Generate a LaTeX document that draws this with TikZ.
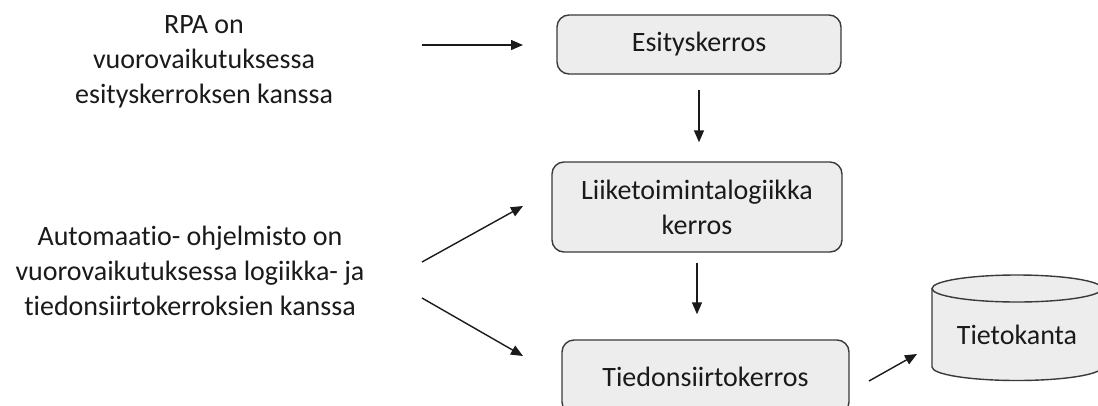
\documentclass[tikz,border=0pt]{standalone}
\usepackage{fontspec}
\setmainfont{Carlito}[Ligatures={NoCommon,NoRequired,NoContextual}]
\usetikzlibrary{arrows.meta}
\definecolor{boxfill}{HTML}{EDEDED}
\definecolor{boxline}{HTML}{3A3A3A}
\definecolor{txt}{HTML}{1A1A1A}
\begin{document}
\begin{tikzpicture}[x=1pt,y=1pt,
  layerbox/.style={draw=boxline, fill=boxfill, line width=1.4pt, rounded corners=12pt,
    inner sep=0pt, align=center, text=txt, font=\fontsize{28}{35}\selectfont},
  plain/.style={inner sep=0pt, align=center, text=txt, font=\fontsize{28}{35}\selectfont},
  conn/.style={line width=1.4pt, draw=txt, -{Triangle[length=12pt,width=10pt]}}]
\useasboundingbox (0,0) rectangle (1098,-405);
% left texts
\node[plain] (rpa) at (204,-62) {RPA on\\vuorovaikutuksessa\\esityskerroksen kanssa};
\node[plain] (auto) at (190,-271) {Automaatio- ohjelmisto on\\vuorovaikutuksessa logiikka- ja\\tiedonsiirtokerroksien kanssa};
% layers
\node[layerbox, minimum width=284pt, minimum height=59pt] (esi) at (699,-44.5) {Esityskerros};
\node[layerbox, minimum width=290pt, minimum height=90pt] (lii) at (697,-207) {Liiketoimintalogiikka\\kerros};
\node[layerbox, minimum width=287pt, minimum height=74pt] (tie) at (705.5,-377) {Tiedonsiirtokerros};
% database cylinder
\fill[boxfill] (932,-288.5) -- (932,-367) arc (180:360:85 and 13.5) -- (1102,-288.5) arc (0:180:85 and 13.5) -- cycle;
\draw[boxline, line width=1.4pt] (932,-288.5) -- (932,-367) arc (180:360:85 and 13.5) -- (1102,-288.5);
\draw[boxline, line width=1.4pt] (1017,-288.5) ellipse (85 and 13.5);
\node[plain] (db) at (1017,-335) {Tietokanta};
% connector ends
\coordinate (a1s) at (422,-45);
\coordinate (a1e) at (523,-45);
\coordinate (a2s) at (422,-262);
\coordinate (a2e) at (523,-206);
\coordinate (a3s) at (422,-298);
\coordinate (a3e) at (523,-356);
\coordinate (a4s) at (869,-381);
\coordinate (a4e) at (917,-354);
\draw[conn] (a1s) -- (a1e);
\draw[conn, shorten <=15pt, shorten >=19pt] (esi.south) -- (esi.south |- lii.north);
\draw[conn, shorten <=10pt, shorten >=25pt] (lii.south) -- (lii.south |- tie.north);
\draw[conn] (a2s) -- (a2e);
\draw[conn] (a3s) -- (a3e);
\draw[conn] (a4s) -- (a4e);
\end{tikzpicture}
\end{document}
